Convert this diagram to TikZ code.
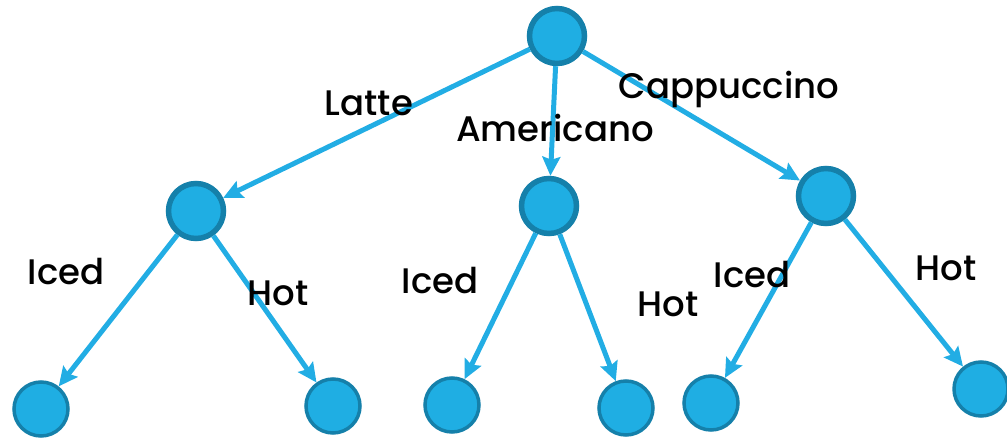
\documentclass[tikz,border=0pt]{standalone}
\usepackage{fontspec}
\setmainfont{Poppins}[UprightFont=* Medium]
\usetikzlibrary{arrows.meta}
\definecolor{nodefill}{HTML}{1FAEE3}
\definecolor{nodeedge}{HTML}{1580AA}
\definecolor{edgecol}{HTML}{22ADE4}
\tikzset{
  big/.style={circle, fill=nodefill, draw=nodeedge, line width=5.5pt, minimum size=55pt, inner sep=0pt},
  leaf/.style={circle, fill=nodefill, draw=nodeedge, line width=3.5pt, minimum size=54pt, inner sep=0pt},
  conn/.style={draw=edgecol, line width=5pt, -{Stealth[length=19pt,width=18pt,inset=3pt]}},
  lbl/.style={font=\fontsize{35.5}{35.5}\selectfont, text=black, inner sep=0pt}
}
\begin{document}
\begin{tikzpicture}[x=1pt,y=-1pt]
\useasboundingbox (0,0) rectangle (1007,438);
\node[big] (r) at (557,36) {};
\node[big] (a) at (196,211) {};
\node[big] (b) at (549,206) {};
\node[big] (c) at (826,196) {};
\node[leaf] (a1) at (41,409) {};
\node[leaf] (a2) at (333,406) {};
\node[leaf] (b1) at (452,405) {};
\node[leaf] (b2) at (626,408) {};
\node[leaf] (c1) at (711,403) {};
\node[leaf] (c2) at (981,389) {};
\draw[conn] (r) -- (a);
\draw[conn] (r) -- (b);
\draw[conn] (r) -- (c);
\draw[conn] (a) -- (a1);
\draw[conn] (a) -- (a2);
\draw[conn] (b) -- (b1);
\draw[conn] (b) -- (b2);
\draw[conn] (c) -- (c1);
\draw[conn] (c) -- (c2);
\node[lbl] (l1) at (369,103) {Latte};
\node[lbl] (l2) at (555,128) {Americano};
\node[lbl] (l3) at (729,89) {Cappuccino};
\node[lbl] (l4) at (66,272) {Iced};
\node[lbl] (l5) at (278,293) {Hot};
\node[lbl] (l6) at (440,281) {Iced};
\node[lbl] (l7) at (668,304) {Hot};
\node[lbl] (l8) at (752,275) {Iced};
\node[lbl] (l9) at (946,268) {Hot};
\end{tikzpicture}
\end{document}
